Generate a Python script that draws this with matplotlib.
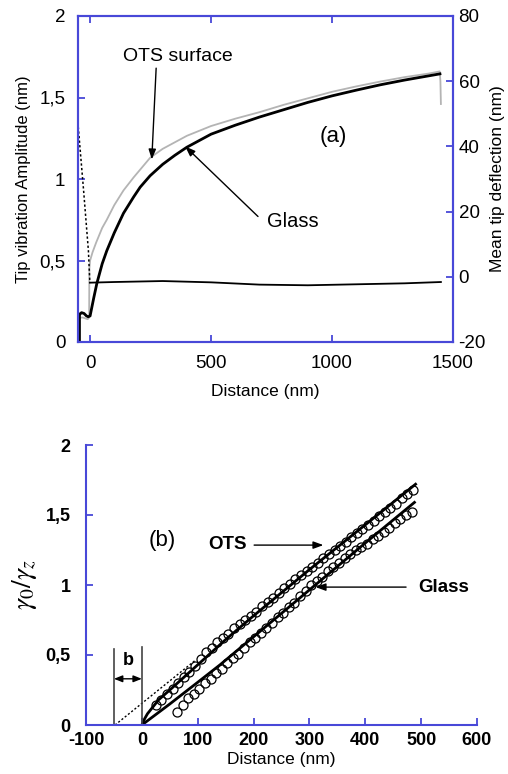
#Tip amplitude / damping vs distance, two panels (a) and (b)
import matplotlib.pyplot as plt

plt.rcParams['font.family'] = ['Liberation Sans', 'DejaVu Sans']
plt.rcParams['axes.unicode_minus'] = False

BLUE = '#4848d8'

# ---- panel (a): tip vibration amplitude and mean deflection ----
a_glass_x = [-44, -44, -40, -35, -25, -15, -8, 0, 15, 28, 50, 69, 100, 138, 180, 207, 248, 300,
             350, 400, 500, 600, 700, 800, 900, 1000, 1100, 1200, 1300, 1400, 1446]
a_glass_amp = [0, 0.165, 0.175, 0.18, 0.175, 0.16, 0.155, 0.16, 0.27, 0.36, 0.48, 0.56, 0.67, 0.79,
               0.89, 0.95, 1.02, 1.09, 1.145, 1.195, 1.275, 1.33, 1.38, 1.425, 1.47, 1.51, 1.545,
               1.578, 1.607, 1.633, 1.645]

a_ots_x = [-45, -45, -40, -30, -20, -10, -4, -3, 0, 10, 25, 50, 69, 100, 138, 180, 248, 300, 350,
           400, 500, 600, 700, 800, 900, 1000, 1100, 1200, 1300, 1400, 1445, 1448, 1450]
a_ots_amp = [0, 0.14, 0.15, 0.15, 0.145, 0.14, 0.15, 0.45, 0.5, 0.55, 0.61, 0.70, 0.75, 0.84, 0.93,
             1.01, 1.13, 1.185, 1.225, 1.265, 1.325, 1.37, 1.41, 1.455, 1.495, 1.535, 1.568,
             1.598, 1.625, 1.647, 1.66, 1.60, 1.46]

a_defl_drop_x = [-49, -27, -7, -1]
a_defl_drop = [46, 26.6, 8, -1.8]
a_defl_x = [-1, 100, 300, 500, 700, 900, 1100, 1300, 1450]
a_defl = [-1.8, -1.6, -1.3, -1.7, -2.4, -2.6, -2.3, -2.0, -1.6]

a_xticks = [0, 500, 1000, 1500]
a_yticks = [0, 0.5, 1, 1.5, 2]
a_ylabels = ['0', '0,5', '1', '1,5', '2']
a_rticks = [-20, 0, 20, 40, 60, 80]

# ---- panel (b): gamma0/gamma_z vs distance ----
b_ots_fit_x = [0, 5, 10, 20, 30, 50, 75, 100, 150, 200, 300, 400, 490]
b_ots_fit = [0, 0.045, 0.08, 0.13, 0.18, 0.25, 0.34, 0.43, 0.61, 0.78, 1.11, 1.43, 1.72]
b_extrap_x = [-48, 95]
b_extrap = [0, 0.46]
b_glass_fit_x = [0, 50, 100, 140, 200, 300, 400, 488]
b_glass_fit = [0, 0.15, 0.305, 0.43, 0.63, 0.965, 1.30, 1.59]

b_ots_x = [25, 35, 45, 55, 65, 75, 85, 95, 105, 115, 125, 135, 145, 155, 165, 175, 185, 195, 205,
           215, 225, 235, 245, 255, 265, 275, 285, 295, 305, 315, 325, 335, 345, 355, 365, 375,
           385, 395, 405, 415, 425, 435, 445, 455, 465, 475, 485]
b_ots = [0.14, 0.18, 0.22, 0.26, 0.30, 0.34, 0.38, 0.42, 0.47, 0.52, 0.55, 0.59, 0.62, 0.65, 0.69,
         0.72, 0.75, 0.78, 0.81, 0.85, 0.88, 0.91, 0.94, 0.98, 1.01, 1.04, 1.07, 1.10, 1.13, 1.16,
         1.19, 1.22, 1.25, 1.28, 1.31, 1.34, 1.37, 1.40, 1.43, 1.46, 1.49, 1.52, 1.55, 1.58, 1.62,
         1.65, 1.68]
b_glass_x = [63, 73, 83, 93, 103, 113, 123, 133, 143, 153, 163, 173, 183, 193, 203, 213, 223, 233,
             243, 253, 263, 273, 283, 293, 303, 313, 323, 333, 343, 353, 363, 373, 383, 393, 403,
             413, 423, 433, 443, 453, 463, 473, 483]
b_glass = [0.09, 0.14, 0.19, 0.22, 0.26, 0.30, 0.33, 0.37, 0.40, 0.44, 0.48, 0.51, 0.55, 0.59, 0.62,
           0.66, 0.69, 0.73, 0.77, 0.80, 0.84, 0.87, 0.92, 0.96, 1.00, 1.03, 1.06, 1.10, 1.13, 1.16,
           1.19, 1.22, 1.25, 1.27, 1.29, 1.33, 1.35, 1.38, 1.41, 1.44, 1.47, 1.50, 1.52]

b_xticks = [-100, 0, 100, 200, 300, 400, 500, 600]
b_yticks = [0, 0.5, 1, 1.5, 2]
b_ylabels = ['0', '0,5', '1', '1,5', '2']

arrow = dict(arrowstyle='-|>,head_length=0.6,head_width=0.22', color='black', lw=1,
             shrinkA=0, shrinkB=0)

fig = plt.figure(figsize=(5.08, 7.74), dpi=100)

# ---------------- (a) ----------------
ax = fig.add_axes([78/508, 1-342/774, 375/508, 326/774])
axr = ax.twinx()

ax.plot(a_ots_x, a_ots_amp, color='#b4b4b4', lw=1.3)
ax.plot(a_glass_x, a_glass_amp, color='black', lw=2)
axr.plot(a_defl_drop_x, a_defl_drop, color='black', lw=1.1, ls=(0, (1.5, 1.5)))
axr.plot(a_defl_x, a_defl, color='black', lw=1.3)

ax.set_xlim(-50, 1500)
ax.set_ylim(0, 2)
axr.set_ylim(-20, 80)
ax.set_xticks(a_xticks)
ax.set_yticks(a_yticks)
ax.set_yticklabels(a_ylabels)
axr.set_yticks(a_rticks)

for a in (ax, axr):
    for s in a.spines.values():
        s.set_color(BLUE)
        s.set_linewidth(1.5)
ax.tick_params(direction='in', color=BLUE, width=1.3, length=5, labelsize=13.5, pad=9,
               top=True)
axr.tick_params(direction='in', color=BLUE, width=1.3, length=5, labelsize=13.5, pad=4)

ax.set_xlabel('Distance (nm)', fontsize=12.5, labelpad=9)
ax.set_ylabel('Tip vibration Amplitude (nm)', fontsize=12, labelpad=6)
axr.set_ylabel('Mean tip deflection (nm)', fontsize=12.5, labelpad=3)

ax.text(1004, 1.26, '(a)', fontsize=16, ha='center', va='center')
ax.text(364, 1.75, 'OTS surface', fontsize=14, ha='center', va='center')
ax.annotate('', xy=(255, 1.12), xytext=(273, 1.68), arrowprops=arrow)
ax.text(837, 0.74, 'Glass', fontsize=14.5, ha='center', va='center')
ax.annotate('', xy=(393, 1.2), xytext=(694, 0.77), arrowprops=arrow)

# ---------------- (b) ----------------
bx = fig.add_axes([86/508, 1-725/774, 391/508, 280/774])

bx.plot(b_extrap_x, b_extrap, color='black', lw=1, ls=(0, (1.5, 1.5)))
bx.plot(b_ots_fit_x, b_ots_fit, color='black', lw=2)
bx.plot(b_glass_fit_x, b_glass_fit, color='black', lw=2)
bx.plot(b_ots_x, b_ots, 'o', mfc='none', mec='black', ms=6.5, mew=0.9)
bx.plot(b_glass_x, b_glass, 'o', mfc='none', mec='black', ms=6.5, mew=0.9)

bx.plot([-50, -50], [0, 0.54], color='#444444', lw=1.2)
bx.plot([0, 0], [0, 0.555], color='#444444', lw=1.2)
bx.annotate('', xy=(-50, 0.33), xytext=(0, 0.33),
            arrowprops=dict(arrowstyle='<|-|>,head_length=0.5,head_width=0.2', color='black',
                            lw=1, shrinkA=0, shrinkB=0))
bx.text(-25, 0.46, 'b', fontsize=13, fontweight='bold', ha='center', va='center')

bx.text(37, 1.32, '(b)', fontsize=16, ha='center', va='center')
bx.text(154, 1.29, 'OTS', fontsize=13.5, fontweight='bold', ha='center', va='center')
bx.annotate('', xy=(325, 1.285), xytext=(201, 1.285), arrowprops=arrow)
bx.text(541, 0.985, 'Glass', fontsize=13.5, fontweight='bold', ha='center', va='center')
bx.annotate('', xy=(311, 0.985), xytext=(473, 0.985), arrowprops=arrow)

bx.set_xlim(-100, 600)
bx.set_ylim(0, 2)
bx.set_xticks(b_xticks)
bx.set_yticks(b_yticks)
bx.set_yticklabels(b_ylabels)
bx.spines['top'].set_visible(False)
bx.spines['right'].set_visible(False)
for s in ('left', 'bottom'):
    bx.spines[s].set_color(BLUE)
    bx.spines[s].set_linewidth(1.5)
bx.tick_params(direction='in', color=BLUE, width=1.3, length=5, labelsize=13)
bx.tick_params(axis='y', pad=11)
bx.tick_params(axis='x', pad=5)
for lab in bx.get_xticklabels() + bx.get_yticklabels():
    lab.set_fontweight('bold')

bx.set_xlabel('Distance (nm)', fontsize=12.5, labelpad=2)
bx.set_ylabel(r'$\gamma_0/\gamma_z$', fontsize=20, labelpad=5, math_fontfamily='stix')

plt.savefig('out.png', dpi=100)
